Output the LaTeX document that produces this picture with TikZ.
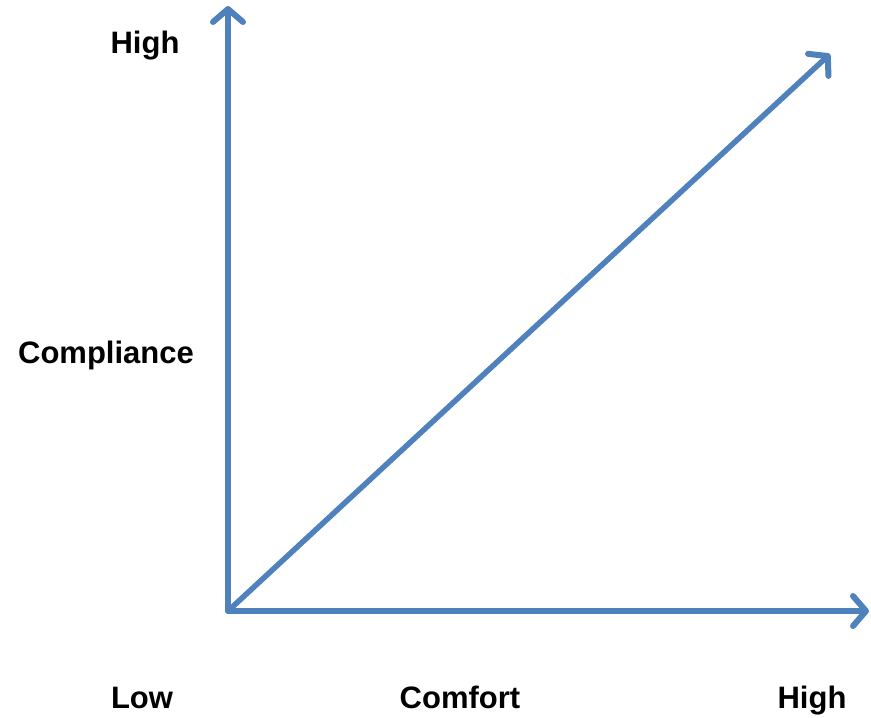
\documentclass[tikz,border=0pt]{standalone}
\usepackage{fontspec}
\setmainfont{Liberation Sans}
\usetikzlibrary{arrows.meta}
\definecolor{axisblue}{HTML}{4F81BD}
\tikzset{
  axis/.style={draw=axisblue, line width=5.5pt, line cap=round, line join=round,
    -{Straight Barb[length=13pt,width=30pt,line width=6pt,round]}},
  lbl/.style={font=\fontsize{31}{36}\selectfont\bfseries, text=black, inner sep=0pt, anchor=base}
}
\begin{document}
\begin{tikzpicture}[x=1pt,y=-1pt]
\useasboundingbox (0,0) rectangle (871,718);
\coordinate (o) at (228,611);
\coordinate (ytop) at (228,6);
\coordinate (xend) at (869,611);
\coordinate (dend) at (830,54);
\draw[axis] (o) -- (ytop);
\draw[axis] (o) -- (xend);
\draw[axis] (o) -- (dend);
\node[lbl] (hy) at (145,53) {High};
\node[lbl] (comp) at (106,363) {Compliance};
\node[lbl] (low) at (142,708) {Low};
\node[lbl] (comf) at (460,708) {Comfort};
\node[lbl] (hx) at (812,708) {High};
\end{tikzpicture}
\end{document}
